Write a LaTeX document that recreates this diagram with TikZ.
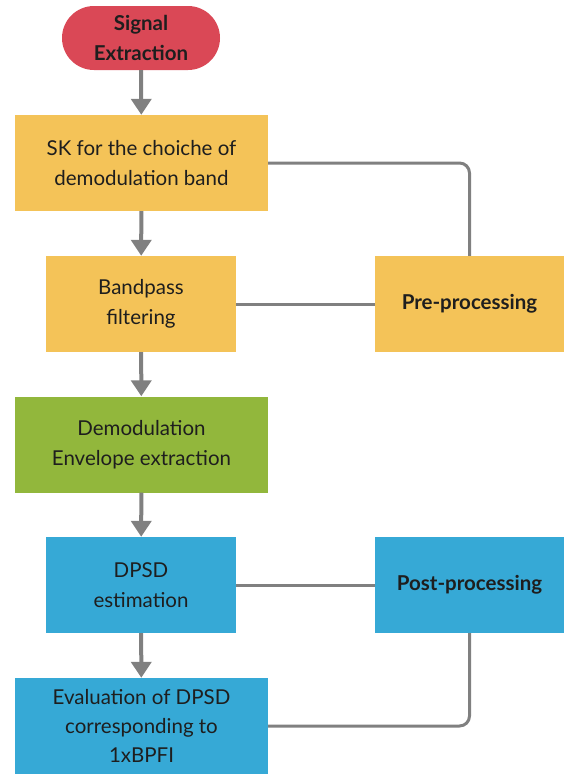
\documentclass[tikz,border=0pt]{standalone}
\usepackage{fontspec}
\setmainfont{Lato}
\usetikzlibrary{arrows.meta}
\definecolor{cred}{HTML}{DA4856}
\definecolor{cyel}{HTML}{F4C358}
\definecolor{cgrn}{HTML}{92B73C}
\definecolor{cblu}{HTML}{36A9D6}
\definecolor{cline}{HTML}{808080}
\definecolor{ctxt}{HTML}{1E1E1E}
\tikzset{
  box/.style={rectangle, draw=none, align=center, inner sep=0pt, text=ctxt,
    font=\fontsize{20.5}{30}\selectfont},
  wide/.style={box, minimum width=253pt, minimum height=96pt},
  narrow/.style={box, minimum width=190pt, minimum height=96pt},
  side/.style={box, minimum width=189pt, minimum height=96pt,
    font=\fontsize{20.5}{30}\selectfont\bfseries},
  flow/.style={draw=cline, line width=4pt, -{Triangle[width=20pt,length=16pt]}},
  link/.style={draw=cline, line width=3pt, rounded corners=10pt}
}
\begin{document}
\begin{tikzpicture}[x=1pt,y=-1pt]
\useasboundingbox (0,0) rectangle (564,774);
\node[box, fill=cred, minimum width=158pt, minimum height=64pt, rounded corners=32pt,
  font=\fontsize{20.5}{30}\selectfont\bfseries] (sig) at (141,38) {Signal\\Extraction};
\node[wide, fill=cyel] (sk) at (141.5,163) {SK for the choiche of\\demodulation band};
\node[narrow, fill=cyel] (bp) at (141,304) {Bandpass\\filtering};
\node[side, fill=cyel] (pre) at (469.5,304) {Pre-processing};
\node[wide, fill=cgrn] (dem) at (141.5,444.5) {Demodulation\\Envelope extraction};
\node[narrow, fill=cblu] (dpsd) at (141,585) {DPSD\\estimation};
\node[side, fill=cblu] (post) at (469.5,585) {Post-processing};
\node[wide, fill=cblu, font=\fontsize{20.5}{29}\selectfont] (eval) at (141.5,726) {Evaluation of DPSD\\corresponding to\\1xBPFI};
\draw[flow] (sig) -- (sk);
\draw[flow] (sk) -- (bp);
\draw[flow] (bp) -- (dem);
\draw[flow] (dem) -- (dpsd);
\draw[flow] (dpsd) -- (eval);
\draw[link] (sk.east) -| (pre.north);
\draw[link] (bp.east) -- (pre.west);
\draw[link] (dpsd.east) -- (post.west);
\draw[link] (eval.east) -| (post.south);
\end{tikzpicture}
\end{document}
